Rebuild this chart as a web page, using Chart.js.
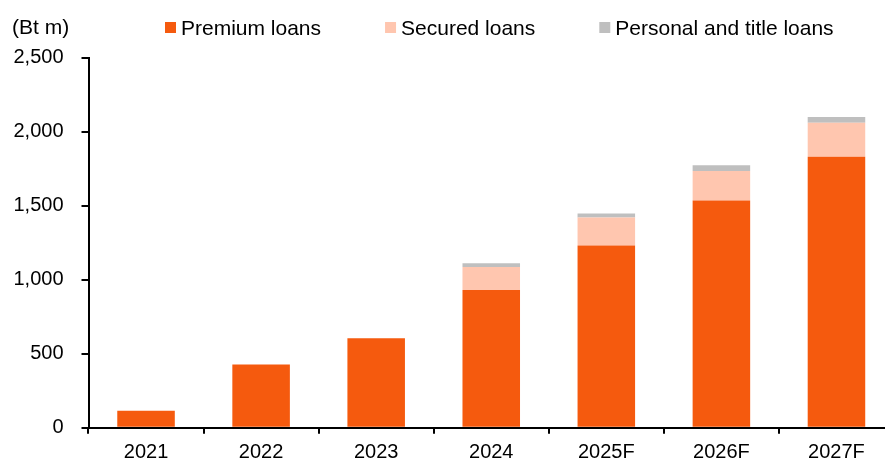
<!DOCTYPE html>
<html>
<head>
<meta charset="utf-8">
<script src="https://cdn.jsdelivr.net/npm/chart.js@4"></script>
<style>
  html, body { margin: 0; padding: 0; background: #fff; overflow: hidden; }
  #wrap { position: relative; width: 1000px; height: 461px; }
</style>
</head>
<body>
<div id="wrap"><canvas id="c"></canvas></div>
<script>
const categories = ['2021', '2022', '2023', '2024', '2025F', '2026F', '2027F'];
const premiumLoans = [115, 426, 604, 930, 1230, 1534, 1829];
const securedLoans = [null, null, null, 156, 189, 200, 230];
const personalTitleLoans = [null, null, null, 25, 27, 39, 40];
const seriesNames = ['Premium loans', 'Secured loans', 'Personal and title loans'];
const seriesColors = ['#F55A0E', '#FFC6AF', '#BFBFBF'];
const yTicks = [0, 500, 1000, 1500, 2000, 2500];
const unitLabel = '(Bt m)';

const FONT = 'Arial, "Liberation Sans", sans-serif';

const customLegend = {
  id: 'customLegend',
  afterDraw(chart) {
    const ctx = chart.ctx;
    ctx.save();
    ctx.font = '21px ' + FONT;
    ctx.fillStyle = '#000';
    ctx.textBaseline = 'alphabetic';
    ctx.textAlign = 'left';
    // unit label
    ctx.fillText(unitLabel, 12, 34);
    // legend
    let x = 165;
    const box = 11;
    chart.data.datasets.forEach((ds) => {
      ctx.fillStyle = ds.backgroundColor;
      ctx.fillRect(x, 22, box, box);
      ctx.fillStyle = '#000';
      const tx = x + box + 5;
      ctx.fillText(ds.label, tx, 35);
      x = tx + ctx.measureText(ds.label).width + 64;
    });
    ctx.restore();
  }
};

new Chart(document.getElementById('c'), {
  type: 'bar',
  data: {
    labels: categories,
    datasets: [
      { label: seriesNames[0], data: premiumLoans, backgroundColor: seriesColors[0] },
      { label: seriesNames[1], data: securedLoans, backgroundColor: seriesColors[1] },
      { label: seriesNames[2], data: personalTitleLoans, backgroundColor: seriesColors[2] }
    ]
  },
  options: {
    responsive: true,
    maintainAspectRatio: false,
    animation: false,
    devicePixelRatio: 1,
    layout: { padding: { top: 57.5, left: 12, right: 106, bottom: 0 } },
    datasets: { bar: { categoryPercentage: 1.0, barPercentage: 0.5, borderWidth: 0 } },
    plugins: {
      legend: { display: false },
      title: { display: false },
      tooltip: { enabled: false }
    },
    scales: {
      x: {
        stacked: true,
        offset: true,
        grid: { offset: true, drawOnChartArea: false, drawTicks: true, tickLength: 6, color: '#000', lineWidth: 2 },
        border: { display: true, color: '#000', width: 2 },
        ticks: { color: '#000', font: { family: FONT, size: 20 }, padding: 7, maxRotation: 0 },
        afterFit(scale) { scale.height = 33.3; }
      },
      y: {
        stacked: true,
        min: 0,
        max: 2500,
        afterBuildTicks(scale) { scale.ticks = yTicks.map(v => ({ value: v })); },
        grid: { drawOnChartArea: false, drawTicks: true, tickLength: 7, color: '#000', lineWidth: 2 },
        border: { display: true, color: '#000', width: 2 },
        ticks: {
          color: '#000',
          font: { family: FONT, size: 20 },
          padding: 18,
          callback: (v) => Number(v).toLocaleString('en-US')
        },
        afterFit(scale) { scale.width = 76.5; }
      }
    }
  },
  plugins: [customLegend]
});
</script>
</body>
</html>
